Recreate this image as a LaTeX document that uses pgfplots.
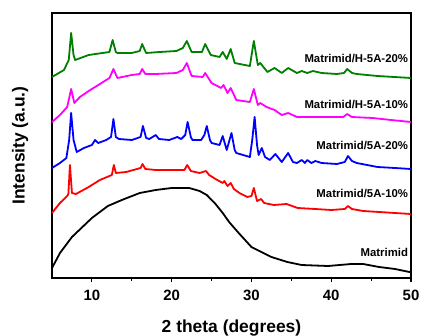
\documentclass[border=0pt]{standalone}
\usepackage{pgfplots}
\pgfplotsset{compat=1.18}
\usepackage{fontspec}
\setmainfont{Liberation Sans}
\definecolor{cgreen}{RGB}{0,128,0}
\definecolor{cmag}{RGB}{255,0,255}
\definecolor{cblue}{RGB}{0,0,255}
\definecolor{cred}{RGB}{255,0,0}
\begin{document}
\begin{tikzpicture}
\useasboundingbox (-52bp,-58bp) rectangle (369bp,278bp);
\begin{axis}[
  at={(0,0)}, anchor=south west,
  scale only axis, width=359bp, height=265bp,
  xmin=5, xmax=50, ymin=0, ymax=265,
  xtick={10,20,30,40,50}, minor xtick={15,25,35,45},
  xtick pos=bottom, tick align=outside,
  ytick=\empty,
  major tick length=4bp, minor tick length=3bp,
  every tick/.style={black, line width=1.1bp},
  axis line style={line width=1.3bp},
  /pgf/number format/assume math mode=true,
  xticklabel style={font=\bfseries\fontsize{15}{17}\selectfont, yshift=-5bp},
  xlabel={2 theta (degrees)},
  ylabel={Intensity (a.u.)},
  xlabel style={font=\bfseries\fontsize{17.5}{20}\selectfont, at={(axis description cs:0.5,-0.189)}, anchor=center},
  ylabel style={font=\bfseries\fontsize{17.5}{20}\selectfont, at={(axis description cs:-0.089,0.5)}, anchor=center},
  clip=false,
  every axis plot/.append style={line width=1.8bp, line join=round},
]
% Matrimid (black)
\addplot[black] coordinates {
(5,10)(6,25)(7.5,41)(10,60)(12,72)(13.75,78)(16,85)(18,88)(20,90)(22.2,90)(23.5,87)(24.4,83)(25.5,74)(26.4,65)(27.2,56)(28.4,45)(30,31)(32.5,21)(34.5,16)(36.3,13)(39.6,12)(42.5,14)(44,14)(46,11)(48,9)(49.8,6)(50,6)
};
% 5A-10% (red)
\addplot[cred] coordinates {
(5,65)(6,75)(6.9,82)(7.05,84)(7.25,113)(7.5,85)(8,84)(9.6,91)(11,98)(12.5,103)(12.75,113)(13.0,105)(14.3,106)(16.1,110)(16.35,114)(16.7,109)(18,108)(20,108)(21.6,108)(21.95,113)(22.4,107)(23.5,105)(24.3,107)(24.7,103)(25.5,99)(26.4,95)(26.6,97)(27.0,92)(27.4,95)(27.8,89)(28.5,85)(29.5,81)(30.0,82)(30.3,90)(30.7,77)(31.2,79)(31.6,75)(32.8,73)(34.4,74)(35.8,70)(38,69)(40,68)(41.7,69)(42.1,72)(42.6,69)(44,67)(46,66)(48,65)(50,64)
};
% 5A-20% (blue)
\addplot[cblue] coordinates {
(5,110)(6,115)(6.8,120)(7.15,138)(7.4,165)(7.7,138)(8.1,126)(9,130)(10,133)(10.4,138)(10.8,135)(11.8,138)(12.4,141)(12.7,159)(13.0,141)(13.4,139)(15,138)(16.1,141)(16.4,152)(16.8,140)(17.2,139)(18,143)(18.4,139)(19.7,138)(20.7,141)(21.2,139)(21.7,143)(22.0,156)(22.4,141)(22.6,138)(23.7,138)(24.1,143)(24.4,152)(24.8,138)(25.0,135)(26.0,133)(26.4,142)(26.9,128)(27.5,145)(27.9,128)(28.1,125)(29.8,121)(30.1,138)(30.4,161)(30.7,133)(30.9,123)(31.3,130)(31.7,121)(32.3,118)(33.0,124)(33.8,116)(34.6,125)(35.2,116)(35.7,115)(36.3,118)(36.7,115)(37.0,118)(37.5,115)(38.0,117)(38.8,115)(40.7,114)(41.7,116)(42.1,122)(42.6,117)(43.2,115)(45.8,111)(48,110)(50,109)
};
% H-5A-10% (magenta)
\addplot[cmag] coordinates {
(5,156)(6.0,163)(6.9,171)(7.1,178)(7.4,189)(7.8,175)(8.5,181)(9.6,187)(11,194)(12.2,200)(12.7,209)(13.2,200)(15,203)(16.0,204)(16.3,209)(16.7,204)(18,204)(20.6,205)(21.4,208)(21.9,215)(22.5,202)(23.9,201)(24.2,205)(25.0,195)(26.2,190)(26.5,193)(27.0,185)(27.4,190)(28.1,178)(29.8,176)(30.3,189)(30.8,173)(31.1,175)(31.9,171)(32.9,168)(33.8,163)(34.6,165)(35.7,161)(38.9,161)(41.5,161)(42.0,164)(42.6,161)(45.2,160)(47.5,158)(50,156)
};
% H-5A-20% (green)
\addplot[cgreen] coordinates {
(5,201)(6.5,208)(7.1,218)(7.4,245)(7.7,223)(7.9,218)(9.6,223)(12.2,226)(12.6,238)(13.0,226)(13.2,225)(15,225)(16.0,227)(16.3,234)(16.8,225)(18.5,226)(20.6,227)(21.4,230)(21.9,237)(22.5,226)(23.8,226)(24.2,234)(24.9,223)(26.0,221)(26.4,226)(26.9,219)(27.4,229)(27.9,215)(29.8,212)(30.3,237)(30.8,213)(31.1,215)(32.0,206)(32.9,210)(33.8,205)(34.6,210)(35.7,205)(36.3,207)(37.0,205)(37.7,207)(38.8,205)(40.7,204)(41.6,205)(42.0,209)(42.6,205)(43.2,204)(45.8,202)(50,200)
};
\begin{scope}[every node/.style={anchor=east, font=\bfseries\fontsize{11.4}{13}\selectfont, inner sep=0pt}]
\node at (axis cs:49.65,219) {Matrimid/H-5A-20\%};
\node at (axis cs:49.65,173) {Matrimid/H-5A-10\%};
\node at (axis cs:49.65,133) {Matrimid/5A-20\%};
\node at (axis cs:49.65,85) {Matrimid/5A-10\%};
\node at (axis cs:49.65,26) {Matrimid};
\end{scope}
\end{axis}
\end{tikzpicture}
\end{document}
